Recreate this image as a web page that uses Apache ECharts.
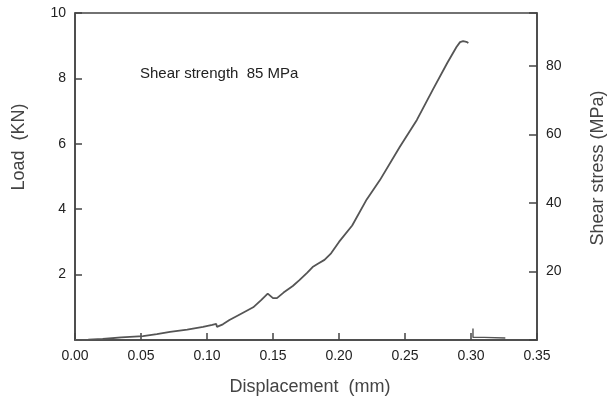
<!DOCTYPE html>
<html>
<head>
<meta charset="utf-8">
<script src="https://cdn.jsdelivr.net/npm/echarts@6/dist/echarts.min.js"></script>
<style>html,body{margin:0;padding:0;background:#fff}#c{width:607px;height:402px}</style>
</head>
<body>
<div id="c"></div>
<script>
// Displacement (mm) and load (KN)
var displacement = [0, 0.010, 0.021, 0.035, 0.0515, 0.062, 0.072, 0.085, 0.097, 0.104, 0.107, 0.1075, 0.112, 0.117, 0.122, 0.128, 0.135, 0.141, 0.146, 0.147, 0.150, 0.153, 0.158, 0.165, 0.170, 0.176, 0.180, 0.184, 0.189, 0.194, 0.200, 0.210, 0.221, 0.231, 0.246, 0.259, 0.271, 0.282, 0.289, 0.2917, 0.294, 0.2965, 0.298];
var load = [0, 0.01, 0.03, 0.08, 0.12, 0.18, 0.25, 0.32, 0.40, 0.46, 0.49, 0.40, 0.48, 0.61, 0.72, 0.85, 1.00, 1.22, 1.42, 1.45, 1.28, 1.28, 1.45, 1.65, 1.83, 2.06, 2.23, 2.33, 2.45, 2.65, 3.00, 3.50, 4.30, 4.89, 5.90, 6.73, 7.65, 8.47, 8.96, 9.11, 9.14, 9.12, 9.08];
// small tail after fracture
var tailDisplacement = [0.3015, 0.3015, 0.310, 0.326];
var tailLoad = [0.35, 0.08, 0.08, 0.06];
var xTicks = [0, 0.05, 0.10, 0.15, 0.20, 0.25, 0.30, 0.35];
var loadTicks = [2, 4, 6, 8, 10];
var stressTicks = [20, 40, 60, 80];
var stressMax = 95.5;
var annotation = 'Shear strength  85 MPa';

function pairs(xs, ys) { return xs.map(function (x, i) { return [x, ys[i]]; }); }

var font = '"Liberation Sans", Arial, sans-serif';
var axisColor = '#444';
var labelColor = '#222';
var chart = echarts.init(document.getElementById('c'));
chart.setOption({
  backgroundColor: '#fff',
  animation: false,
  grid: { left: 75, right: 70, top: 13, bottom: 62, show: true, borderColor: axisColor, borderWidth: 1.5, backgroundColor: 'transparent' },
  xAxis: {
    type: 'value', min: xTicks[0], max: xTicks[xTicks.length - 1], interval: 0.05,
    axisLine: { show: true, onZero: false, lineStyle: { color: axisColor, width: 1.5 } },
    axisTick: { show: true, inside: true, length: 7, lineStyle: { color: axisColor, width: 1.5 } },
    axisLabel: { color: labelColor, fontSize: 14, fontFamily: font, margin: 9, formatter: function (v) { return v.toFixed(2); } },
    splitLine: { show: false }
  },
  yAxis: [{
    type: 'value', min: 0, max: loadTicks[loadTicks.length - 1], interval: 2,
    axisLine: { show: true, lineStyle: { color: axisColor, width: 1.5 } },
    axisTick: { show: true, inside: true, length: 7, lineStyle: { color: axisColor, width: 1.5 } },
    axisLabel: { color: labelColor, fontSize: 14, fontFamily: font, margin: 9, formatter: function (v) { return loadTicks.indexOf(v) >= 0 ? String(v) : ''; } },
    splitLine: { show: false }
  }, {
    type: 'value', min: 0, max: stressMax, interval: 20, position: 'right', alignTicks: false,
    axisLine: { show: true, lineStyle: { color: axisColor, width: 1.5 } },
    axisTick: { show: true, inside: true, length: 8, lineStyle: { color: axisColor, width: 1.5 } },
    axisLabel: { color: labelColor, fontSize: 14, fontFamily: font, margin: 9, formatter: function (v) { return stressTicks.indexOf(v) >= 0 ? String(v) : ''; } },
    splitLine: { show: false }
  }],
  graphic: [
    { type: 'text', left: 140, top: 66, style: { text: annotation, fontSize: 15, fontFamily: font, fill: '#222' } },
    { type: 'text', x: 19, y: 147, rotation: Math.PI / 2, style: { text: 'Load  (KN)', fontSize: 18, fontFamily: font, fill: '#444', align: 'center', verticalAlign: 'middle' } },
    { type: 'text', x: 598, y: 168, rotation: Math.PI / 2, style: { text: 'Shear stress (MPa)', fontSize: 18, fontFamily: font, fill: '#444', align: 'center', verticalAlign: 'middle' } },
    { type: 'text', x: 310, y: 387, style: { text: 'Displacement  (mm)', fontSize: 18, fontFamily: font, fill: '#444', align: 'center', verticalAlign: 'middle' } }
  ],
  series: [{
    type: 'line', data: pairs(displacement, load), showSymbol: false, symbol: 'none',
    lineStyle: { color: '#555', width: 1.8 }, smooth: false
  }, {
    type: 'line', data: pairs(tailDisplacement, tailLoad), showSymbol: false, symbol: 'none',
    lineStyle: { color: '#555', width: 1.4 }, smooth: false
  }]
});
</script>
</body>
</html>
